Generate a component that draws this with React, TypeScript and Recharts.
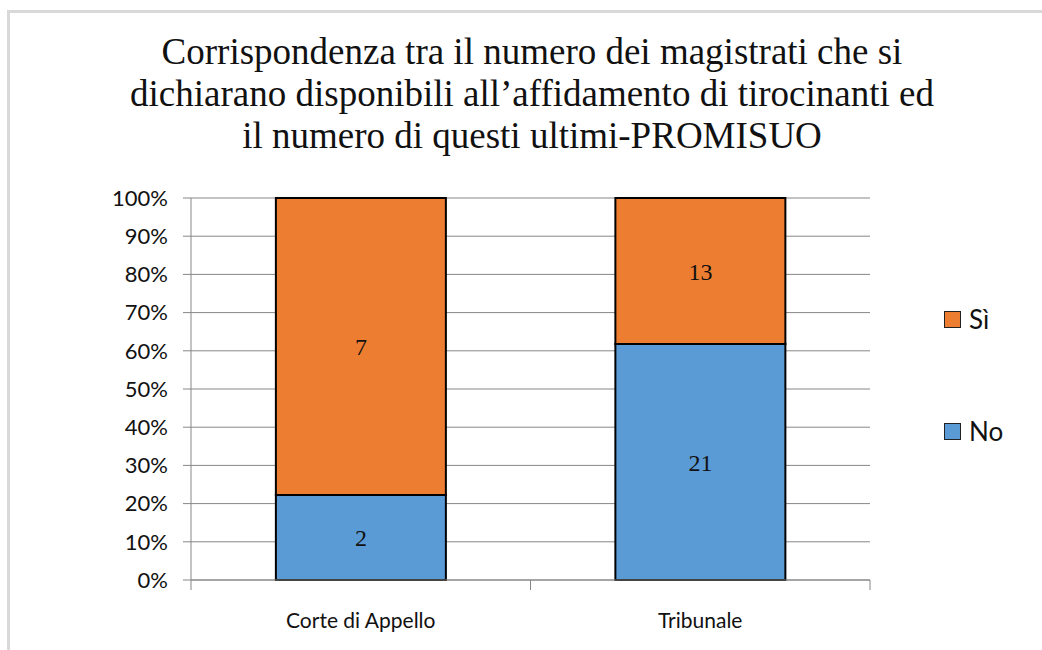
import React from "react";
import { BarChart, Bar, XAxis, YAxis, CartesianGrid, Legend, LabelList } from "recharts";

const categories = ["Corte di Appello", "Tribunale"];
const noValues = [2, 21];
const siValues = [7, 13];
const yTicks = [0, 0.1, 0.2, 0.3, 0.4, 0.5, 0.6, 0.7, 0.8, 0.9, 1];
const titleLines = [
  "Corrispondenza tra il numero dei magistrati che si",
  "dichiarano disponibili all\u2019affidamento di tirocinanti ed",
  "il numero di questi ultimi-PROMISUO",
];
const series = [
  { key: "no", name: "No", color: "#5B9BD5" },
  { key: "si", name: "S\u00EC", color: "#ED7D31" },
];

const data = categories.map((c, i) => ({ name: c, no: noValues[i], si: siValues[i] }));

const SANS = "Lato, 'Open Sans', sans-serif";
const SERIF = "'Liberation Serif', 'DejaVu Serif', serif";

const XTick = (props: any) => {
  const { x, y, payload, width, visibleTicksCount } = props;
  const half = width / (2 * (visibleTicksCount || 2));
  return (
    <g>
      <line x1={x - half} y1={y - 8} x2={x - half} y2={y + 2} stroke="#878787" strokeWidth={1} />
      <line x1={x + half} y1={y - 8} x2={x + half} y2={y + 2} stroke="#878787" strokeWidth={1} />
      <text x={x} y={y + 40} textAnchor="middle" fontFamily={SANS} fontSize={21} fill="#111">
        {payload.value}
      </text>
    </g>
  );
};

const LegendContent = () => {
  const items = [...series].reverse();
  return (
    <div style={{ fontFamily: SANS, fontSize: 26, color: "#111" }}>
      {items.map((s, i) => (
        <div key={s.key} style={{ display: "flex", alignItems: "center", height: 30, marginBottom: i === 0 ? 82 : 0 }}>
          <div style={{ width: 15, height: 15, background: s.color, border: "1px solid #222", marginRight: 8 }} />
          <span>{s.name}</span>
        </div>
      ))}
    </div>
  );
};

export default function App() {
  return (
    <div style={{ position: "absolute", left: 0, top: 0, width: 1042, height: 650, background: "#fff", overflow: "hidden" }}>
      <div
        style={{
          position: "absolute",
          left: 7,
          top: 10,
          width: 1200,
          height: 800,
          borderLeft: "3px solid #d9d9d9",
          borderTop: "3px solid #d9d9d9",
        }}
      />
      <div
        style={{
          position: "absolute",
          left: 0,
          top: 31,
          width: 1064,
          textAlign: "center",
          fontFamily: SERIF,
          fontSize: 37,
          lineHeight: "42px",
          color: "#111",
        }}
      >
        {titleLines.map((l) => (
          <div key={l}>{l}</div>
        ))}
      </div>
      <div style={{ position: "absolute", left: 0, top: 0 }}>
        <BarChart
          width={1042}
          height={650}
          data={data}
          stackOffset="expand"
          margin={{ top: 198, right: 82, bottom: 40, left: 0 }}
          barCategoryGap="25%"
        >
          <CartesianGrid vertical={false} stroke="#878787" strokeWidth={1} />
          <XAxis
            dataKey="name"
            height={30}
            tickLine={false}
            axisLine={{ stroke: "#878787", strokeWidth: 1 }}
            tick={<XTick />}
            interval={0}
          />
          <YAxis
            width={191}
            domain={[0, 1]}
            ticks={yTicks}
            tickFormatter={(v: number) => `${Math.round(v * 100)}%`}
            axisLine={{ stroke: "#878787", strokeWidth: 1 }}
            tickLine={{ stroke: "#878787", strokeWidth: 1 }}
            tickSize={8}
            tickMargin={15}
            tick={{ fontFamily: SANS, fontSize: 22, fill: "#111" }}
            interval={0}
          />
          <Legend
            layout="vertical"
            align="right"
            verticalAlign="top"
            content={<LegendContent />}
            wrapperStyle={{ left: 944, top: 304, width: 90 }}
          />
          {series.map((s) => (
            <Bar
              key={s.key}
              dataKey={s.key}
              name={s.name}
              stackId="a"
              fill={s.color}
              stroke="#000"
              strokeWidth={2}
              isAnimationActive={false}
            >
              <LabelList dataKey={s.key} position="center" fill="#111" fontFamily={SERIF} fontSize={24} />
            </Bar>
          ))}
        </BarChart>
      </div>
    </div>
  );
}
